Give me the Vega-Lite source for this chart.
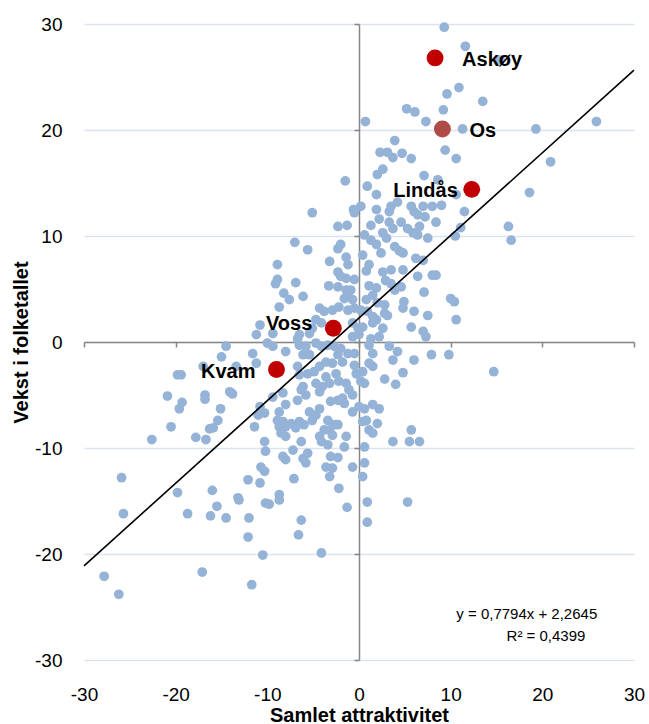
{
  "$schema": "https://vega.github.io/schema/vega-lite/v6.json",
  "width": 550,
  "height": 636,
  "autosize": {"type": "none"},
  "padding": {"left": 84, "top": 24, "right": 15, "bottom": 64},
  "background": "white",
  "config": {"view": {"stroke": null}, "font": "Liberation Sans"},
  "datasets": {
    "pts": [
      {"x":9.3,"y":29.7},{"x":9.6,"y":23.4},{"x":5.2,"y":22.0},{"x":6.1,"y":21.7},{"x":9.2,"y":21.9},{"x":0.7,"y":20.8},{"x":7.3,"y":20.8},{"x":3.9,"y":19.0},{"x":2.3,"y":17.9},{"x":3.1,"y":17.9},
      {"x":3.7,"y":17.4},{"x":4.7,"y":17.8},{"x":5.7,"y":17.3},{"x":9.4,"y":18.1},{"x":2.6,"y":16.3},{"x":2.0,"y":15.8},{"x":7.1,"y":15.7},{"x":8.6,"y":15.3},{"x":-1.5,"y":15.2},{"x":11.6,"y":27.9},
      {"x":15.4,"y":26.6},{"x":10.9,"y":24.0},{"x":13.5,"y":22.7},{"x":11.3,"y":20.1},{"x":19.3,"y":20.1},{"x":25.9,"y":20.8},{"x":10.6,"y":17.3},{"x":20.9,"y":17.0},{"x":10.6,"y":13.9},{"x":18.6,"y":14.1},
      {"x":11.5,"y":12.3},{"x":11.1,"y":10.8},{"x":10.5,"y":10.0},{"x":16.3,"y":10.9},{"x":16.6,"y":9.6},{"x":10.0,"y":4.1},{"x":10.4,"y":3.8},{"x":10.6,"y":2.1},{"x":9.8,"y":-1.2},{"x":14.7,"y":-2.8},
      {"x":-14.5,"y":-0.4},{"x":-15.0,"y":-1.4},{"x":-11.6,"y":-1.1},{"x":-11.2,"y":-2.0},{"x":-19.8,"y":-3.1},{"x":-19.4,"y":-3.1},{"x":-17.0,"y":-2.3},{"x":-13.4,"y":-2.3},{"x":-20.9,"y":-5.1},{"x":-19.3,"y":-5.7},
      {"x":-19.6,"y":-6.3},{"x":-16.8,"y":-5.0},{"x":-16.8,"y":-5.4},{"x":-14.1,"y":-4.7},{"x":-13.8,"y":-4.9},{"x":-15.1,"y":-6.3},{"x":-15.4,"y":-7.4},{"x":-16.3,"y":-8.2},{"x":-15.9,"y":-8.1},{"x":-20.5,"y":-8.0},
      {"x":-17.8,"y":-9.0},{"x":-16.7,"y":-9.2},{"x":-22.6,"y":-9.2},{"x":-10.8,"y":-6.1},{"x":-11.0,"y":-6.9},{"x":-10.3,"y":-6.7},{"x":-11.4,"y":-8.0},{"x":-10.3,"y":-9.4},{"x":-25.9,"y":-12.8},{"x":-19.8,"y":-14.2},
      {"x":-16.0,"y":-14.0},{"x":-13.2,"y":-14.7},{"x":-12.1,"y":-13.0},{"x":-10.8,"y":-13.3},{"x":-10.7,"y":-11.8},{"x":-10.3,"y":-12.2},{"x":-25.7,"y":-16.2},{"x":-18.7,"y":-16.2},{"x":-16.2,"y":-16.4},{"x":-15.5,"y":-15.5},
      {"x":-14.5,"y":-16.6},{"x":-12.0,"y":-16.6},{"x":-13.1,"y":-14.9},{"x":-12.1,"y":-18.4},{"x":-10.5,"y":-20.1},{"x":-27.8,"y":-22.1},{"x":-26.2,"y":-23.8},{"x":-17.1,"y":-21.7},{"x":-11.7,"y":-22.9},{"x":-10.2,"y":-15.2},
      {"x":-9.8,"y":-15.3},{"x":-8.7,"y":-14.9},{"x":-1.3,"y":-15.6},{"x":-6.3,"y":-16.8},{"x":-6.6,"y":-18.2},{"x":-4.1,"y":-19.9},{"x":0.9,"y":-15.1},{"x":5.3,"y":-15.1},{"x":0.9,"y":-17.0},{"x":-10.8,"y":1.6},
      {"x":-11.2,"y":0.7},{"x":0.9,"y":14.7},{"x":1.9,"y":13.9},{"x":0.2,"y":12.8},{"x":-0.6,"y":12.5},{"x":-0.5,"y":12.2},{"x":-5.1,"y":12.2},{"x":1.9,"y":12.5},{"x":3.5,"y":12.8},{"x":3.3,"y":12.3},
      {"x":4.2,"y":13.2},{"x":5.7,"y":12.8},{"x":7.0,"y":12.8},{"x":8.0,"y":12.8},{"x":9.0,"y":12.9},{"x":6.0,"y":12.3},{"x":6.4,"y":12.0},{"x":7.2,"y":11.8},{"x":8.4,"y":11.3},{"x":2.2,"y":11.6},
      {"x":1.3,"y":11.0},{"x":3.3,"y":11.3},{"x":3.7,"y":10.7},{"x":4.6,"y":11.3},{"x":-2.3,"y":10.9},{"x":-1.3,"y":11.0},{"x":0.6,"y":10.1},{"x":1.3,"y":9.6},{"x":2.6,"y":10.3},{"x":3.0,"y":9.8},
      {"x":5.3,"y":10.7},{"x":5.9,"y":10.3},{"x":6.6,"y":10.9},{"x":6.4,"y":10.1},{"x":7.5,"y":9.8},{"x":-7.0,"y":9.4},{"x":-5.6,"y":8.7},{"x":-2.0,"y":9.2},{"x":-2.3,"y":8.8},{"x":3.9,"y":9.0},
      {"x":4.4,"y":8.6},{"x":4.8,"y":8.4},{"x":1.9,"y":9.2},{"x":2.4,"y":8.4},{"x":0.4,"y":8.2},{"x":6.2,"y":7.9},{"x":7.0,"y":7.7},{"x":1.1,"y":7.3},{"x":0.8,"y":6.7},{"x":-3.2,"y":7.6},
      {"x":-1.4,"y":8.0},{"x":-1.2,"y":7.3},{"x":-8.9,"y":7.3},{"x":2.6,"y":6.6},{"x":3.5,"y":6.8},{"x":4.8,"y":6.8},{"x":6.4,"y":6.2},{"x":8.0,"y":6.3},{"x":8.4,"y":6.3},{"x":-2.3,"y":6.6},
      {"x":-2.0,"y":6.2},{"x":-1.4,"y":6.0},{"x":-0.5,"y":5.9},{"x":-8.9,"y":5.9},{"x":-9.1,"y":5.5},{"x":-6.9,"y":5.6},{"x":-3.3,"y":5.3},{"x":-2.3,"y":5.2},{"x":-1.4,"y":4.9},{"x":-0.9,"y":4.9},
      {"x":1.1,"y":5.3},{"x":1.9,"y":5.1},{"x":1.5,"y":4.4},{"x":2.9,"y":5.8},{"x":3.5,"y":5.5},{"x":3.9,"y":4.9},{"x":4.6,"y":5.2},{"x":7.1,"y":4.7},{"x":-8.2,"y":4.6},{"x":-7.6,"y":4.0},
      {"x":-8.7,"y":3.3},{"x":-6.1,"y":4.3},{"x":-1.6,"y":4.1},{"x":-0.7,"y":4.0},{"x":-1.2,"y":4.6},{"x":0.8,"y":4.0},{"x":2.0,"y":3.7},{"x":2.8,"y":3.5},{"x":4.9,"y":3.8},{"x":4.8,"y":3.2},
      {"x":2.8,"y":2.7},{"x":3.1,"y":2.5},{"x":-4.3,"y":3.2},{"x":-3.8,"y":2.9},{"x":-2.9,"y":3.0},{"x":-2.2,"y":3.3},{"x":-1.2,"y":3.0},{"x":-0.5,"y":3.2},{"x":0.2,"y":3.0},{"x":0.9,"y":2.9},
      {"x":1.5,"y":2.4},{"x":1.9,"y":2.1},{"x":6.0,"y":2.9},{"x":7.5,"y":2.5},{"x":-4.7,"y":2.1},{"x":-4.1,"y":1.8},{"x":-5.1,"y":1.3},{"x":-0.7,"y":1.8},{"x":-0.1,"y":1.3},{"x":0.4,"y":1.4},
      {"x":1.5,"y":1.8},{"x":2.6,"y":1.3},{"x":5.7,"y":1.4},{"x":7.0,"y":1.0},{"x":7.3,"y":0.5},{"x":2.2,"y":0.5},{"x":1.3,"y":0.3},{"x":-9.4,"y":0.8},{"x":-6.5,"y":0.7},{"x":-6.7,"y":0.3},
      {"x":-5.4,"y":0.8},{"x":-0.7,"y":0.5},{"x":0.0,"y":0.7},{"x":-8.0,"y":-0.9},{"x":-10.0,"y":-0.1},{"x":-9.4,"y":-0.4},{"x":-6.5,"y":-0.3},{"x":-5.8,"y":-0.4},{"x":-5.4,"y":-1.2},{"x":-6.1,"y":-1.2},
      {"x":-4.7,"y":-0.1},{"x":-4.1,"y":-0.4},{"x":-3.4,"y":-0.3},{"x":-2.7,"y":-0.4},{"x":-2.0,"y":-0.6},{"x":-1.2,"y":-1.1},{"x":-0.5,"y":-1.1},{"x":-2.3,"y":-1.2},{"x":-1.8,"y":-1.9},{"x":-2.9,"y":-2.0},
      {"x":-3.6,"y":-1.9},{"x":-4.3,"y":-2.3},{"x":-4.9,"y":-2.8},{"x":-5.6,"y":-3.0},{"x":-6.7,"y":-2.3},{"x":-6.5,"y":-3.1},{"x":-0.5,"y":-2.2},{"x":-0.3,"y":-3.0},{"x":0.2,"y":-3.7},{"x":0.6,"y":-3.9},
      {"x":1.1,"y":-0.3},{"x":1.5,"y":-1.1},{"x":1.1,"y":-2.0},{"x":1.5,"y":-2.3},{"x":0.4,"y":-2.8},{"x":3.3,"y":-0.4},{"x":4.2,"y":-0.9},{"x":3.7,"y":-1.7},{"x":6.0,"y":-1.7},{"x":7.9,"y":-1.2},
      {"x":4.8,"y":-2.9},{"x":2.8,"y":-3.5},{"x":4.0,"y":-4.0},{"x":-2.5,"y":-3.0},{"x":-2.2,"y":-3.7},{"x":-1.4,"y":-3.9},{"x":-1.1,"y":-4.5},{"x":-0.7,"y":-5.0},{"x":-3.6,"y":-3.3},{"x":-3.2,"y":-3.9},
      {"x":-4.0,"y":-4.2},{"x":-4.7,"y":-3.9},{"x":-4.3,"y":-4.7},{"x":-6.1,"y":-4.2},{"x":-5.8,"y":-5.0},{"x":-6.7,"y":-5.5},{"x":-6.3,"y":-4.5},{"x":-8.3,"y":-4.8},{"x":-8.0,"y":-5.9},{"x":-8.7,"y":-6.6},
      {"x":-8.9,"y":-7.4},{"x":-9.4,"y":-5.2},{"x":-3.1,"y":-5.6},{"x":-2.3,"y":-5.5},{"x":-1.6,"y":-5.8},{"x":-1.8,"y":-5.3},{"x":-0.7,"y":-6.6},{"x":0.0,"y":-6.1},{"x":0.6,"y":-6.3},{"x":0.4,"y":-7.5},
      {"x":0.8,"y":-7.4},{"x":1.5,"y":-5.9},{"x":2.2,"y":-6.3},{"x":-5.4,"y":-6.6},{"x":-4.7,"y":-6.9},{"x":-4.3,"y":-6.3},{"x":-5.1,"y":-7.4},{"x":-6.5,"y":-7.5},{"x":-6.0,"y":-7.8},{"x":-6.9,"y":-8.1},
      {"x":-7.4,"y":-7.7},{"x":-8.0,"y":-8.0},{"x":-8.3,"y":-7.5},{"x":-8.7,"y":-8.0},{"x":-8.5,"y":-8.6},{"x":-8.0,"y":-8.9},{"x":-3.4,"y":-7.4},{"x":-2.7,"y":-7.8},{"x":-2.3,"y":-7.8},{"x":-3.2,"y":-8.3},
      {"x":-2.9,"y":-8.8},{"x":-3.8,"y":-8.3},{"x":-4.3,"y":-8.9},{"x":-4.1,"y":-9.4},{"x":-3.4,"y":-9.7},{"x":-1.4,"y":-8.9},{"x":-1.6,"y":-9.9},{"x":1.1,"y":-8.3},{"x":1.5,"y":-8.6},{"x":2.0,"y":-7.7},
      {"x":5.7,"y":-8.3},{"x":5.5,"y":-9.4},{"x":6.6,"y":-9.4},{"x":3.7,"y":-9.4},{"x":0.6,"y":-9.9},{"x":-6.3,"y":-9.4},{"x":-7.2,"y":-10.2},{"x":-5.6,"y":-10.5},{"x":-6.1,"y":-11.0},{"x":-5.8,"y":-11.4},
      {"x":-10.2,"y":-10.3},{"x":-8.3,"y":-10.8},{"x":-8.0,"y":-11.1},{"x":-3.1,"y":-10.8},{"x":-2.3,"y":-10.9},{"x":-3.6,"y":-11.8},{"x":-2.9,"y":-11.9},{"x":-3.2,"y":-12.7},{"x":-0.7,"y":-11.8},{"x":0.6,"y":-11.4},
      {"x":0.4,"y":-12.7},{"x":-7.1,"y":-12.9},{"x":-2.2,"y":-13.8},{"x":-8.7,"y":-14.4}
    ],
    "hl": [
      {"name":"Askøy","x":8.3,"y":26.8},
      {"name":"Os","x":9.1,"y":20.1},
      {"name":"Lindås","x":12.3,"y":14.4},
      {"name":"Voss","x":-2.8,"y":1.3},
      {"name":"Kvam","x":-9.0,"y":-2.6}
    ],
    "trend": [
      {"x":-30,"y":-21.1175},
      {"x":30,"y":25.6465}
    ],
    "eq": [
      {"text":"y = 0,7794x + 2,2645","x":18.3,"y":-25.5},
      {"text":"R² = 0,4399","x":20.4,"y":-27.5}
    ]
  },
  "layer": [
    {
      "data": {"name": "pts"},
      "mark": {"type": "circle", "size": 95, "color": "#95B3D7", "opacity": 1},
      "encoding": {
        "x": {
          "field": "x", "type": "quantitative",
          "scale": {"domain": [-30, 30], "nice": false, "zero": false},
          "axis": {
            "orient": "bottom", "values": [-30, -20, -10, 0, 10, 20, 30],
            "labelExpr": "datum.value < 0 ? '-' + abs(datum.value) : '' + datum.value",
            "grid": false, "domain": false, "ticks": false, "tickSize": 0,
            "labelPadding": 25, "labelFontSize": 19, "labelColor": "#000000",
            "labelFlush": false, "labelOverlap": false,
            "title": "Samlet attraktivitet", "titleFontSize": 20, "titleFontWeight": "bold",
            "titleColor": "#000000", "titleX": 275, "titleY": 61, "titleBaseline": "alphabetic", "titleAlign": "center"
          }
        },
        "y": {
          "field": "y", "type": "quantitative",
          "scale": {"domain": [-30, 30], "nice": false, "zero": false},
          "axis": {
            "orient": "left", "values": [-30, -20, -10, 0, 10, 20, 30],
            "labelExpr": "datum.value < 0 ? '-' + abs(datum.value) : '' + datum.value",
            "grid": true, "gridColor": "#D9E3F1", "gridWidth": 1.3,
            "domain": false, "ticks": false, "tickSize": 0,
            "labelPadding": 22, "labelFontSize": 19, "labelColor": "#000000", "labelOverlap": false,
            "title": "Vekst i folketallet", "titleFontSize": 20, "titleFontWeight": "bold",
            "titleColor": "#000000", "titleX": -63, "titleY": 318, "titleBaseline": "middle", "titleAlign": "center", "titleAngle": 270
          }
        }
      }
    },
    {
      "data": {"name": "pts"},
      "mark": {"type": "point", "opacity": 0},
      "encoding": {
        "x": {
          "field": "x", "type": "quantitative",
          "scale": {"domain": [-30, 30], "nice": false, "zero": false},
          "axis": {
            "orient": "bottom", "offset": -318, "values": [-30, -20, -10, 0, 10, 20, 30],
            "labels": false, "grid": false, "domain": true, "domainColor": "#868686", "domainWidth": 1.5,
            "ticks": true, "tickColor": "#868686", "tickWidth": 1.5, "tickSize": 5, "title": null
          }
        },
        "y": {
          "field": "y", "type": "quantitative",
          "scale": {"domain": [-30, 30], "nice": false, "zero": false},
          "axis": {
            "orient": "left", "offset": -275, "values": [-30, -20, -10, 0, 10, 20, 30],
            "labels": false, "grid": false, "domain": true, "domainColor": "#868686", "domainWidth": 1.5,
            "ticks": true, "tickColor": "#868686", "tickWidth": 1.5, "tickSize": 5, "title": null
          }
        }
      }
    },
    {
      "data": {"name": "trend"},
      "mark": {"type": "line", "color": "#000000", "strokeWidth": 1.6},
      "encoding": {
        "x": {"field": "x", "type": "quantitative", "axis": null},
        "y": {"field": "y", "type": "quantitative", "axis": null}
      }
    },
    {
      "data": {"name": "hl"},
      "mark": {"type": "circle", "size": 285, "opacity": 1},
      "encoding": {
        "x": {"field": "x", "type": "quantitative", "axis": null},
        "y": {"field": "y", "type": "quantitative", "axis": null},
        "color": {
          "field": "name", "type": "nominal", "legend": null,
          "scale": {"domain": ["Askøy", "Os", "Lindås", "Voss", "Kvam"], "range": ["#C00000", "#B04A46", "#C00000", "#C00000", "#C00000"]}
        }
      }
    },
    {
      "data": {"name": "hl"},
      "transform": [{"filter": "datum.name === 'Askøy' || datum.name === 'Os'"}],
      "mark": {"type": "text", "align": "left", "baseline": "middle", "dx": 27, "dy": 2, "fontSize": 20, "fontWeight": "bold", "color": "#000000"},
      "encoding": {
        "x": {"field": "x", "type": "quantitative", "axis": null},
        "y": {"field": "y", "type": "quantitative", "axis": null},
        "text": {"field": "name"}
      }
    },
    {
      "data": {"name": "hl"},
      "transform": [{"filter": "datum.name === 'Lindås'"}],
      "mark": {"type": "text", "align": "right", "baseline": "middle", "dx": -14, "dy": 2, "fontSize": 20, "fontWeight": "bold", "color": "#000000"},
      "encoding": {
        "x": {"field": "x", "type": "quantitative", "axis": null},
        "y": {"field": "y", "type": "quantitative", "axis": null},
        "text": {"field": "name"}
      }
    },
    {
      "data": {"name": "hl"},
      "transform": [{"filter": "datum.name === 'Voss'"}],
      "mark": {"type": "text", "align": "right", "baseline": "middle", "dx": -21, "dy": -4, "fontSize": 20, "fontWeight": "bold", "color": "#000000"},
      "encoding": {
        "x": {"field": "x", "type": "quantitative", "axis": null},
        "y": {"field": "y", "type": "quantitative", "axis": null},
        "text": {"field": "name"}
      }
    },
    {
      "data": {"name": "hl"},
      "transform": [{"filter": "datum.name === 'Kvam'"}],
      "mark": {"type": "text", "align": "right", "baseline": "middle", "dx": -21, "dy": 2, "fontSize": 20, "fontWeight": "bold", "color": "#000000"},
      "encoding": {
        "x": {"field": "x", "type": "quantitative", "axis": null},
        "y": {"field": "y", "type": "quantitative", "axis": null},
        "text": {"field": "name"}
      }
    },
    {
      "data": {"name": "eq"},
      "mark": {"type": "text", "align": "center", "baseline": "middle", "dy": 2, "fontSize": 15, "color": "#000000"},
      "encoding": {
        "x": {"field": "x", "type": "quantitative", "axis": null},
        "y": {"field": "y", "type": "quantitative", "axis": null},
        "text": {"field": "text"}
      }
    }
  ],
  "resolve": {"axis": {"x": "independent", "y": "independent"}}
}
